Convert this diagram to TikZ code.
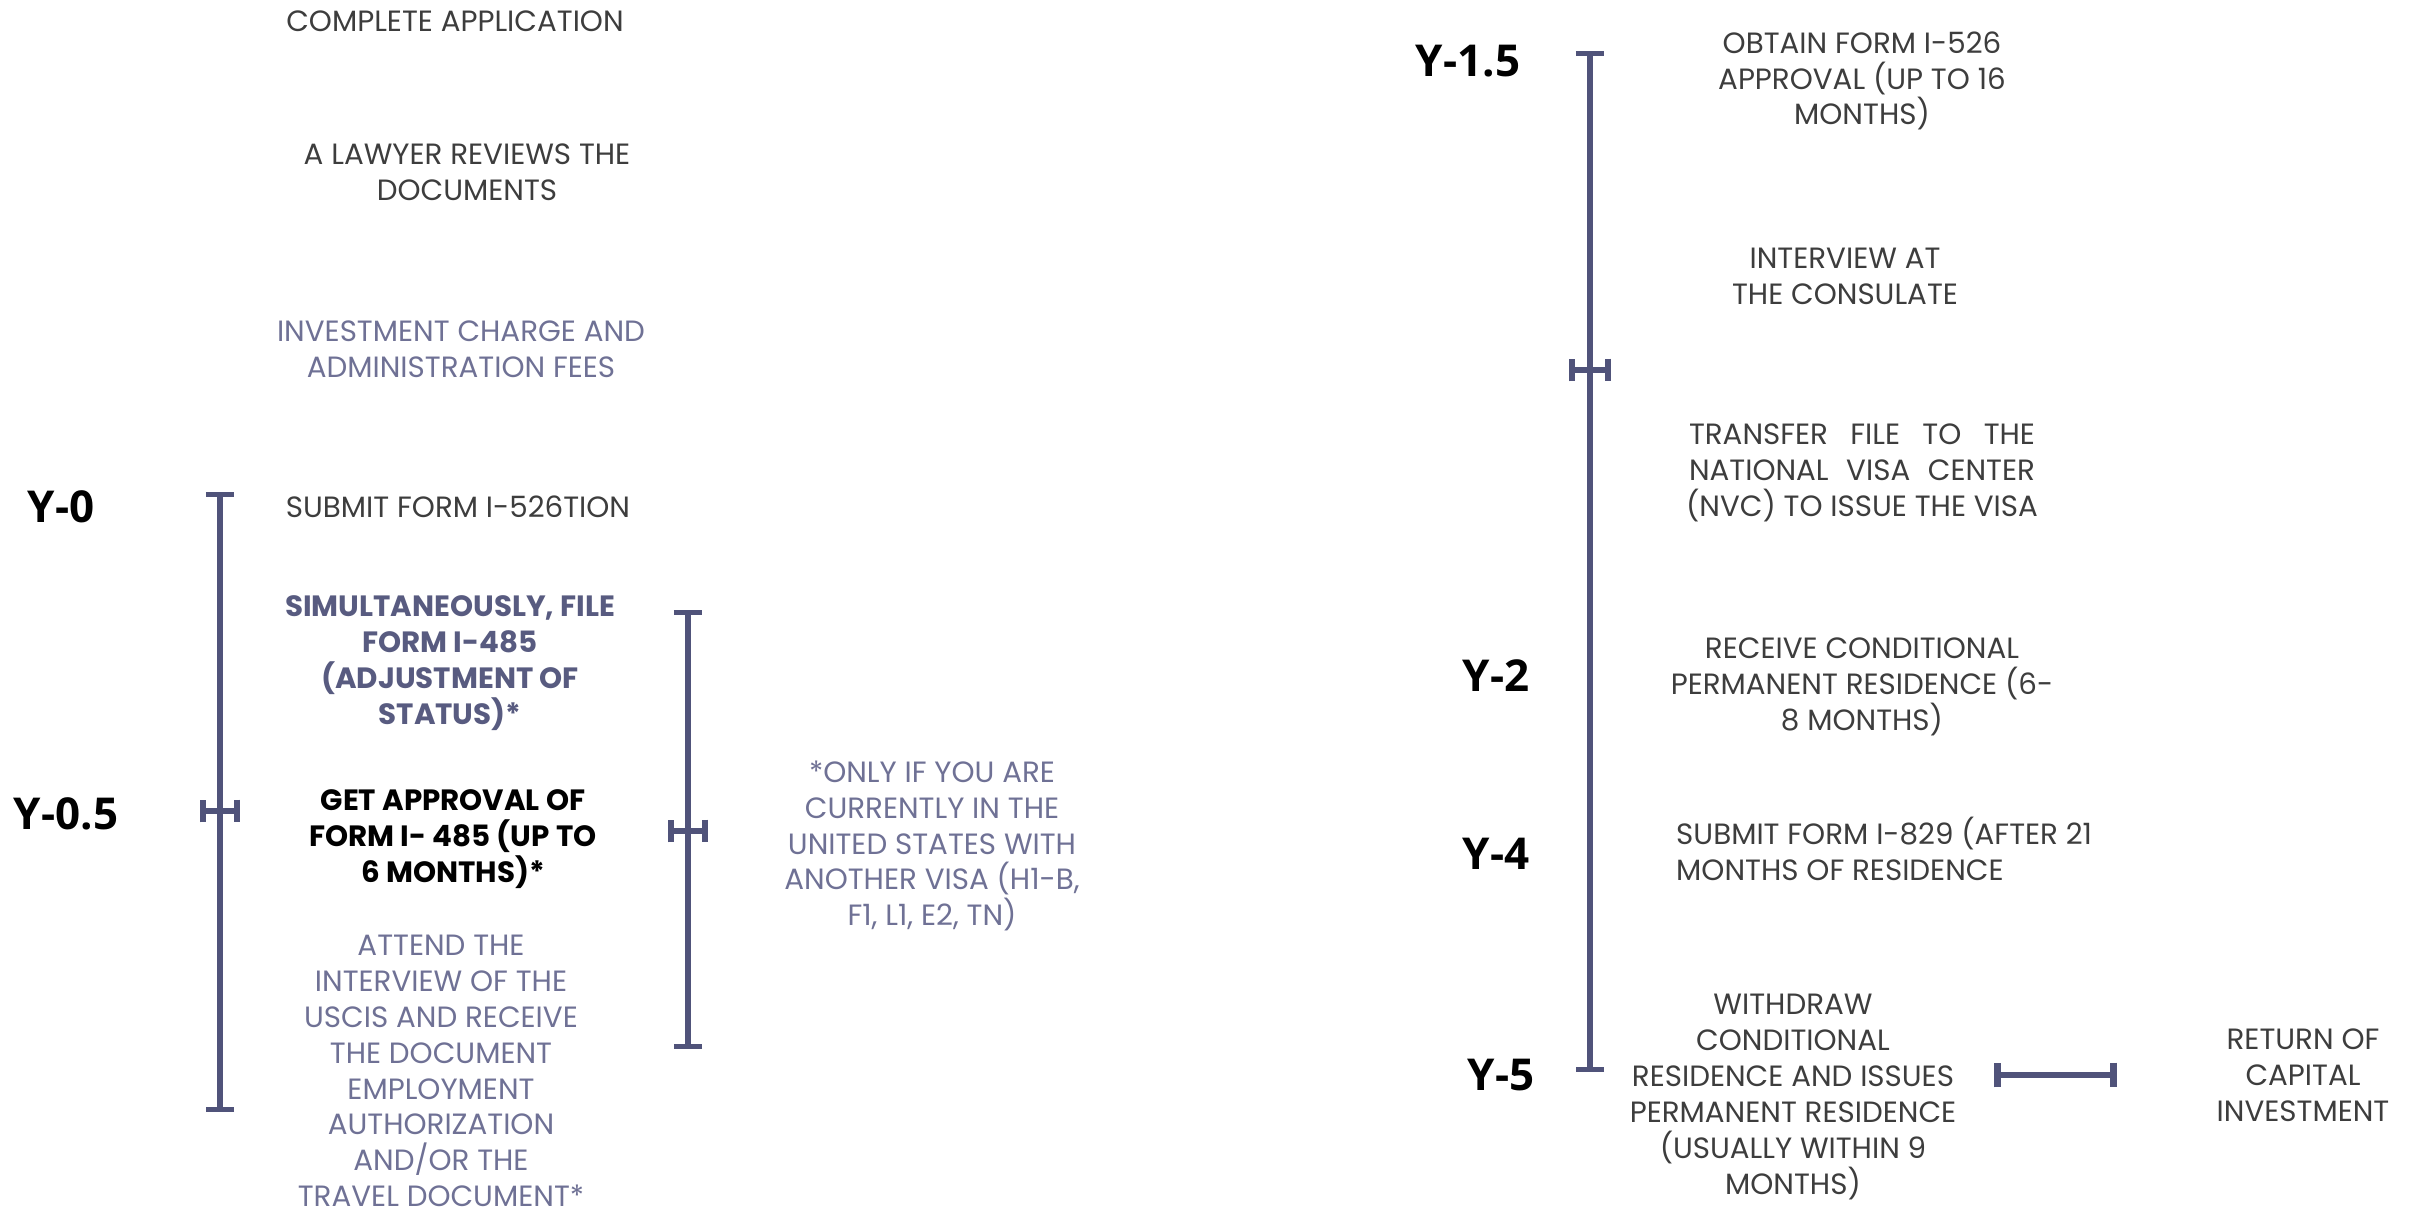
\documentclass[tikz,border=0pt]{standalone}
\usepackage{fontspec}
\setmainfont{Poppins}
\newfontfamily\yearfont{Open Sans}
\usetikzlibrary{arrows.meta}
\definecolor{txtgray}{HTML}{3D3D3D}
\definecolor{lilac}{HTML}{6F7195}
\definecolor{slate}{HTML}{585B80}
\definecolor{barblue}{HTML}{50537A}

\begin{document}
\begin{tikzpicture}[font=\fontsize{8.35}{10.2}\selectfont,
  item/.style={text=txtgray,align=center,inner sep=1pt},
  soft/.style={item,text=lilac},
  year/.style={font=\yearfont\bfseries\fontsize{12.5}{14}\selectfont,text=black},
  span/.style={draw=barblue,line width=1.5pt,{Bar[width=8pt]}-{Bar[width=8pt]}},
  tick/.style={draw=barblue,line width=1.7pt,{Bar[width=6.5pt]}-{Bar[width=6.5pt]}}]
\useasboundingbox (0,0) rectangle (24.09,-12.14);
\node[item] (app) at (4.55,-0.215) {COMPLETE APPLICATION};
\node[item] (lawyer) at (4.67,-1.72) {A LAWYER REVIEWS THE\\DOCUMENTS};
\node[soft] (fees) at (4.61,-3.49) {INVESTMENT CHARGE AND\\ADMINISTRATION FEES};
\node[year] (y0) at (0.61,-5.07) {Y-0};
\node[item] (sub526) at (4.58,-5.07) {SUBMIT FORM I-526TION};
\node[item,text=slate,font=\bfseries\fontsize{8.35}{10.2}\selectfont] (file485) at (4.50,-6.63)
  {SIMULTANEOUSLY, FILE\\FORM I-485\\(ADJUSTMENT OF\\STATUS)*};
\node[year] (y05) at (0.66,-8.14) {Y-0.5};
\node[item,text=black,font=\bfseries\fontsize{8.35}{10.2}\selectfont] (appr485) at (4.53,-8.39)
  {GET APPROVAL OF\\FORM I- 485 (UP TO\\6 MONTHS)*};
\node[soft] (uscis) at (4.41,-10.71) {ATTEND THE\\INTERVIEW OF THE\\USCIS AND RECEIVE\\THE DOCUMENT\\EMPLOYMENT\\AUTHORIZATION\\AND/OR THE\\TRAVEL DOCUMENT*};
\node[soft] (only) at (9.32,-8.46) {*ONLY IF YOU ARE\\CURRENTLY IN THE\\UNITED STATES WITH\\ANOTHER VISA (H1-B,\\F1, L1, E2, TN)};
\coordinate (l0) at (2.20,-4.92);
\coordinate (l1) at (2.20,-11.12);
\coordinate (lma) at (2.00,-8.11);
\coordinate (lmb) at (2.40,-8.11);
\draw[span] (l0) -- (l1);
\draw[tick] (lma) -- (lmb);
\coordinate (s0) at (6.88,-6.10);
\coordinate (s1) at (6.88,-10.49);
\coordinate (sma) at (6.68,-8.31);
\coordinate (smb) at (7.08,-8.31);
\draw[span] (s0) -- (s1);
\draw[tick] (sma) -- (smb);
\node[year] (y15) at (14.68,-0.61) {Y-1.5};
\node[item] (obtain) at (18.62,-0.81) {OBTAIN FORM I-526\\APPROVAL (UP TO 16\\MONTHS)};
\node[item] (consul) at (18.45,-2.76) {INTERVIEW AT\\THE CONSULATE};
\node[item] (nvc) at (18.62,-4.73) {\makebox[3.46cm][s]{TRANSFER FILE TO THE}\\\makebox[3.46cm][s]{NATIONAL VISA CENTER}\\(NVC) TO ISSUE THE VISA};
\node[year] (y2) at (14.96,-6.76) {Y-2};
\node[item] (receive) at (18.62,-6.87) {RECEIVE CONDITIONAL\\PERMANENT RESIDENCE (6-\\8 MONTHS)};
\node[year] (y4) at (14.96,-8.54) {Y-4};
\node[item,align=left,anchor=west] (sub829) at (16.72,-8.49) {SUBMIT FORM I-829 (AFTER 21\\MONTHS OF RESIDENCE};
\node[year] (y5) at (15.01,-10.75) {Y-5};
\node[item] (withdraw) at (17.93,-10.97) {WITHDRAW\\CONDITIONAL\\RESIDENCE AND ISSUES\\PERMANENT RESIDENCE\\(USUALLY WITHIN 9\\MONTHS)};
\node[item] (capital) at (23.03,-10.75) {RETURN OF\\CAPITAL\\INVESTMENT};
\coordinate (r0) at (15.90,-0.51);
\coordinate (r1) at (15.90,-10.72);
\coordinate (rma) at (15.69,-3.70);
\coordinate (rmb) at (16.11,-3.70);
\draw[span] (r0) -- (r1);
\draw[tick] (rma) -- (rmb);
\coordinate (ha) at (19.94,-10.75);
\coordinate (hb) at (21.17,-10.75);
\draw[tick,line width=1.9pt,{Bar[width=7pt]}-{Bar[width=7pt]}] (ha) -- (hb);
\end{tikzpicture}
\end{document}
